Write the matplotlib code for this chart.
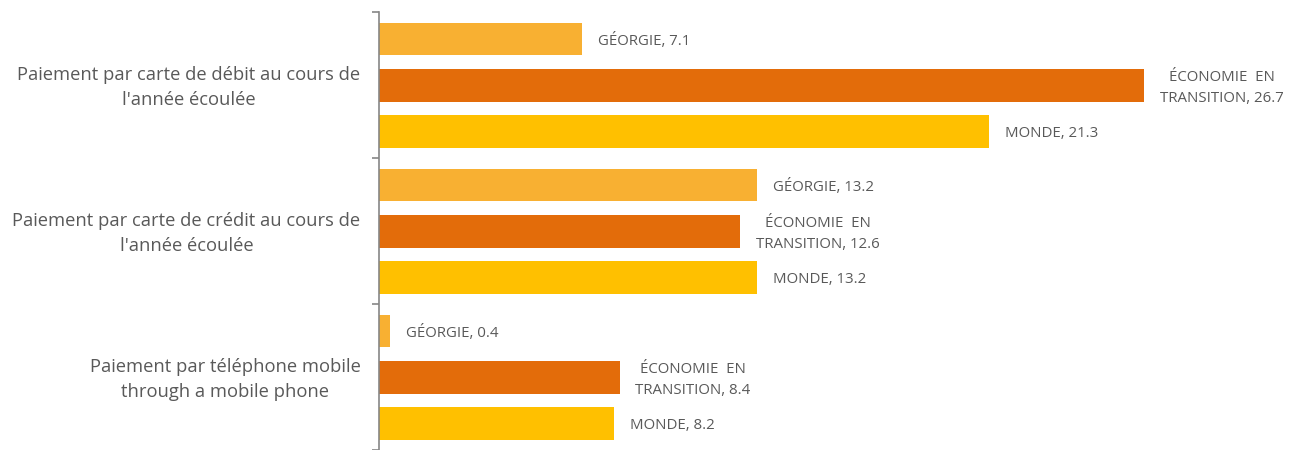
import numpy as np
import matplotlib
matplotlib.use("Agg")
import matplotlib.pyplot as plt

# données
categories = ["Paiement par carte de débit au cours de\nl'année écoulée",
              "Paiement par carte de crédit au cours de\nl'année écoulée",
              "Paiement par téléphone mobile\nthrough a mobile phone"]
series = ["GÉORGIE", "ÉCONOMIE  EN\nTRANSITION", "MONDE"]
georgie = [7.1, 13.2, 0.4]
transition = [26.7, 12.6, 8.4]
monde = [21.3, 13.2, 8.2]
colors = ["#F8B032", "#E36C0A", "#FFC000"]

plt.rcParams['font.family'] = ['Open Sans', 'DejaVu Sans']

fig = plt.figure(figsize=(13.05, 4.5), dpi=100)
ax = fig.add_axes([379/1305, 0.0, 1 - 379/1305, 1 - 12/450])

valeurs = [georgie, transition, monde]
offsets = [-0.315, 0.005, 0.32]
ycent = np.arange(len(categories)) + 0.5
for s, (nom, vals, off, c) in enumerate(zip(series, valeurs, offsets, colors)):
    y = ycent + off
    ax.barh(y, vals, height=0.225, color=c)
    for yi, v in zip(y, vals):
        ax.text(v + 0.55, yi + 0.015, f"{nom}, {v}", va='center', ha='left',
                multialignment='center', fontsize=10.8, color='#595959',
                linespacing=1.5)

ax.set_xlim(0, 926 / 28.65)
ax.set_ylim(3, 0)
ax.set_yticks([0, 1, 2, 3])
ax.set_yticklabels([])
ax.tick_params(axis='y', length=5, color='#868686', width=1.2)
ax.set_xticks([])
for sp in ['top', 'right', 'bottom']:
    ax.spines[sp].set_visible(False)
ax.spines['left'].set_color('#868686')
ax.spines['left'].set_linewidth(1.2)

for yc, cat in zip(ycent, categories):
    ax.text(-0.65, yc + 0.02, cat, ha='right', va='center', multialignment='center',
            fontsize=13.2, color='#595959', linespacing=1.5)

fig.savefig("out.png", dpi=100)
